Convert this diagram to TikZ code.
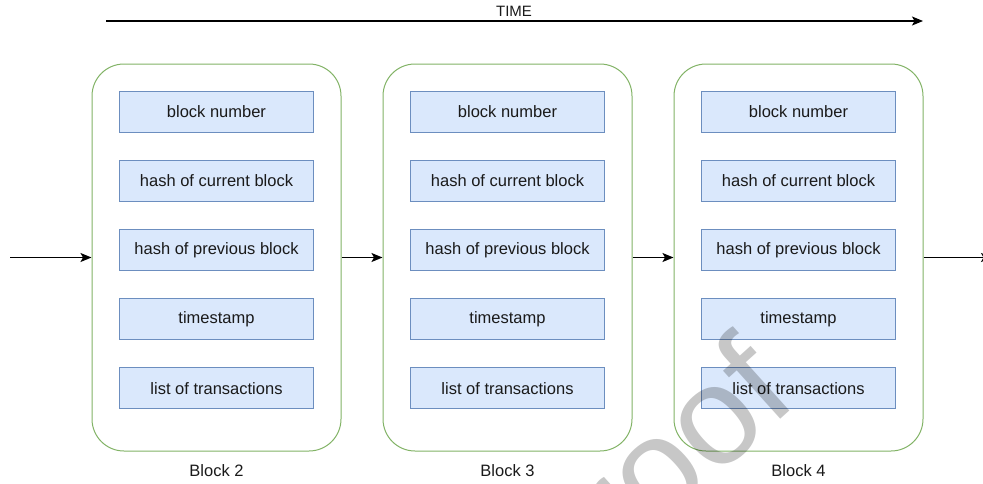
\documentclass[tikz,border=0pt]{standalone}
\usepackage{fontspec}
\setmainfont{Liberation Sans}
\usetikzlibrary{arrows.meta}
\definecolor{boxfill}{HTML}{DAE8FC}
\definecolor{boxline}{HTML}{6C8EBF}
\definecolor{blockline}{HTML}{82B366}
\definecolor{ink}{HTML}{1A1A1A}

\begin{document}
\begin{tikzpicture}[x=1pt,y=-1pt,
  blockframe/.style={draw=blockline, line width=1pt, rounded corners=32pt,
    minimum width=249pt, minimum height=387pt, inner sep=0pt, fill=white},
  field/.style={draw=boxline, line width=1pt, fill=boxfill,
    minimum width=194pt, minimum height=41pt, inner sep=0pt,
    font=\fontsize{16.5}{18}\selectfont, text=ink},
  caption/.style={font=\fontsize{16.5}{18}\selectfont, text=ink, inner sep=0pt},
  flow/.style={draw=black, line width=1.2pt,
    -{Stealth[length=11pt,width=9pt,inset=2.5pt]}},
  stamp/.style={rotate=42, anchor=base east, inner sep=0pt, text=black,
    opacity=0.22, font=\fontsize{140}{140}\selectfont},
]
\useasboundingbox (0,0) rectangle (983,483);
\clip (0,0) rectangle (983,483);

% timeline
\coordinate (t0) at (106,21);
\coordinate (t1) at (923,21);
\draw[flow] (t0) -- (t1);
\node[caption, font=\fontsize{15}{17}\selectfont] (timelabel) at (514,11) {TIME};

% the three blocks with their fields
\foreach \n/\cx in {2/216.5,3/507.5,4/798.5}{
  \node[blockframe] (b\n) at (\cx,257.5) {};
  \node[field] (b\n-num)  at (\cx,111.5) {block number};
  \node[field] (b\n-cur)  at (\cx,180.7) {hash of current block};
  \node[field] (b\n-prev) at (\cx,249.9) {hash of previous block};
  \node[field] (b\n-time) at (\cx,319.1) {timestamp};
  \node[field] (b\n-tx)   at (\cx,388.3) {list of transactions};
  \node[caption] (b\n-label) at (\cx,471) {Block \n};
}

% chain links
\coordinate (src) at (10,257.5);
\coordinate (sink) at (992,257.5);
\draw[flow] (src) -- (b2.west);
\draw[flow] (b2.east) -- (b3.west);
\draw[flow] (b3.east) -- (b4.west);
\draw[flow] (b4.east) -- (sink);

% proof stamp
\node[stamp] (stampmark) at (801,401) {Proof};
\end{tikzpicture}
\end{document}
